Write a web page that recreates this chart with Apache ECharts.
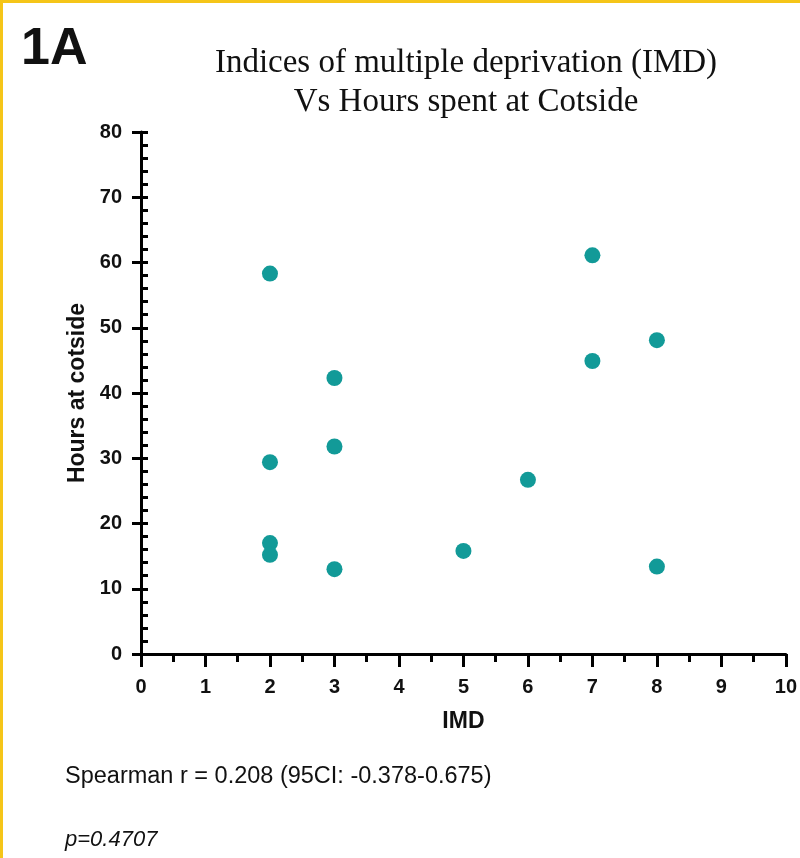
<!DOCTYPE html>
<html>
<head>
<meta charset="utf-8">
<script src="https://cdn.jsdelivr.net/npm/echarts@6/dist/echarts.min.js"></script>
<style>
    html, body { margin: 0; padding: 0; background: #fff; }
    #chart {
        width: 800px; height: 858px; box-sizing: border-box;
        border-top: 3px solid #f5c518; border-left: 3px solid #f5c518;
    }
</style>
</head>
<body>
<div id="chart"></div>
<script>
    // 数据
    var imd = [2, 2, 2, 2, 3, 3, 3, 5, 6, 7, 7, 8, 8];
    var hours = [58.3, 29.4, 17.0, 15.2, 42.3, 31.8, 13.0, 15.8, 26.7, 61.1, 44.9, 48.1, 13.4];
    var xTicks = [0, 10, 1];   // min, max, interval
    var yTicks = [0, 80, 10];

    var points = [];
    for (var i = 0; i < imd.length; i++) {
        points.push([imd[i], hours[i]]);
    }

    var myChart = echarts.init(document.getElementById('chart'));

    var tickFont = { color: '#111', fontFamily: 'Liberation Sans', fontWeight: 'bold', fontSize: 20 };
    var nameFont = { color: '#111', fontFamily: 'Liberation Sans', fontWeight: 'bold', fontSize: 23 };

    var option = {
        animation: false,
        title: [
            {
                text: '1A', left: 13, top: 16,
                textStyle: { fontFamily: 'Liberation Sans', fontWeight: 'bold', fontSize: 52, color: '#111' }
            },
            {
                text: 'Indices of multiple deprivation (IMD)\nVs Hours spent at Cotside',
                left: 458, top: 36, textAlign: 'center',
                textStyle: { fontFamily: 'Liberation Serif', fontWeight: 'normal', fontSize: 33, lineHeight: 39, color: '#111' }
            },
            {
                text: 'Spearman r = 0.208 (95CI: -0.378-0.675)', left: 57, top: 757,
                textStyle: { fontFamily: 'Liberation Sans', fontWeight: 'normal', fontSize: 23.5, color: '#111' }
            },
            {
                text: 'p=0.4707', left: 57, top: 821,
                textStyle: { fontFamily: 'Liberation Sans', fontStyle: 'italic', fontWeight: 'normal', fontSize: 22, color: '#111' }
            }
        ],
        grid: { left: 138, top: 129, right: 10, bottom: 204 },
        xAxis: {
            type: 'value', min: xTicks[0], max: xTicks[1], interval: xTicks[2],
            name: 'IMD', nameLocation: 'middle', nameGap: 56,
            nameTextStyle: nameFont,
            axisLine: { lineStyle: { color: '#000', width: 3 } },
            axisTick: { length: 13, lineStyle: { color: '#000', width: 3 } },
            minorTick: { show: true, splitNumber: 2, length: 8, lineStyle: { color: '#000', width: 3 } },
            axisLabel: Object.assign({ margin: 23 }, tickFont),
            splitLine: { show: false }
        },
        yAxis: [
            {
                type: 'value', min: yTicks[0], max: yTicks[1], interval: yTicks[2],
                name: 'Hours at cotside', nameLocation: 'middle', nameGap: 52, nameRotate: 90,
                nameTextStyle: nameFont,
                axisLine: { lineStyle: { color: '#000', width: 3 } },
                axisTick: { length: 9, lineStyle: { color: '#000', width: 3 } },
                axisLabel: Object.assign({ margin: 19 }, tickFont),
                splitLine: { show: false }
            },
            {
                // 内侧小刻度
                type: 'value', position: 'left', min: yTicks[0], max: yTicks[1], interval: 2,
                axisLine: { show: false },
                axisTick: { inside: true, length: 7, lineStyle: { color: '#000', width: 3 } },
                axisLabel: { show: false },
                splitLine: { show: false }
            }
        ],
        series: [
            {
                type: 'scatter',
                data: points,
                symbolSize: 16,
                itemStyle: { color: '#129a98', opacity: 1 }
            }
        ]
    };
    myChart.setOption(option);
</script>
</body>
</html>
